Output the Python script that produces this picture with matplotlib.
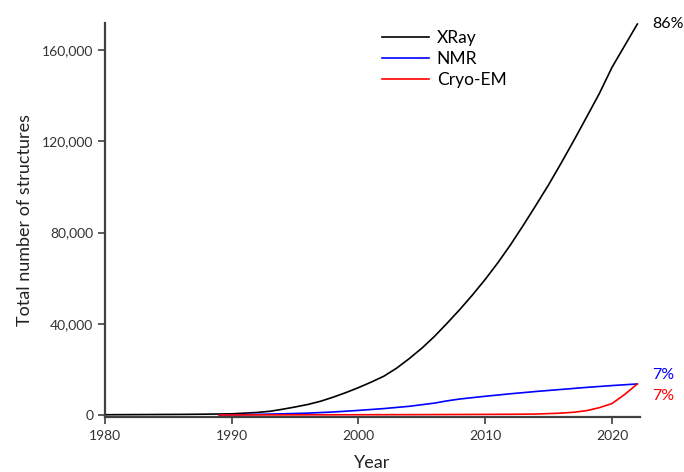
import matplotlib
matplotlib.use("Agg")
import matplotlib.pyplot as plt
from matplotlib.ticker import FuncFormatter

plt.rcParams['font.family'] = ['Lato', 'DejaVu Sans']

# Cumulative number of deposited structures by experimental method
years_xray = [1980, 1982, 1984, 1986, 1988, 1990, 1991, 1992, 1993, 1994, 1995,
              1996, 1997, 1998, 1999, 2000, 2001, 2002, 2003, 2004, 2005, 2006,
              2007, 2008, 2009, 2010, 2011, 2012, 2013, 2014, 2015, 2016, 2017,
              2018, 2019, 2020, 2021, 2022]
xray = [100, 150, 200, 250, 350, 500, 800, 1100, 1600, 2500, 3500,
        4600, 6000, 7800, 9800, 12000, 14400, 17000, 20500, 24700, 29300, 34500,
        40300, 46300, 52700, 59500, 66800, 74700, 83200, 92000, 101000, 110600, 120500,
        130700, 141000, 152500, 162000, 171500]

years_nmr = [1989, 1990, 1992, 1994, 1996, 1998, 2000, 2002, 2004, 2006, 2007,
             2008, 2010, 2012, 2014, 2016, 2018, 2020, 2022]
nmr = [0, 50, 250, 500, 800, 1300, 2000, 2800, 3800, 5200, 6200,
       7000, 8200, 9300, 10300, 11200, 12100, 12900, 13600]

years_em = [1989, 1995, 2000, 2005, 2010, 2012, 2014, 2016, 2017, 2018, 2019,
            2020, 2021, 2022]
cryo_em = [0, 50, 100, 150, 250, 300, 400, 800, 1200, 1900, 3200,
           5000, 9000, 13600]

series_names = ["XRay", "NMR", "Cryo-EM"]
series_colors = ["black", "#0000ff", "#ff0000"]
share_labels = ["86%", "7%", "7%"]

fig = plt.figure(figsize=(6.84, 4.72), dpi=100)
ax = fig.add_axes([0.1535, 0.1165, 0.782, 0.835])

ax.plot(years_xray, xray, color=series_colors[0], lw=1.2, label=series_names[0])
ax.plot(years_nmr, nmr, color=series_colors[1], lw=1.2, label=series_names[1])
ax.plot(years_em, cryo_em, color=series_colors[2], lw=1.2, label=series_names[2])

ax.set_xlim(1980, 2022.2)
ax.set_ylim(-900, 172000)
ax.set_xticks([1980, 1990, 2000, 2010, 2020])
ax.set_yticks([0, 40000, 80000, 120000, 160000])
ax.yaxis.set_major_formatter(FuncFormatter(lambda v, p: f"{int(v):,}"))

for s in ["top", "right"]:
    ax.spines[s].set_visible(False)
for s in ["left", "bottom"]:
    ax.spines[s].set_color("#404040")
    ax.spines[s].set_linewidth(1.6)

ax.tick_params(axis="both", direction="out", length=5, width=1.2,
               color="#404040", labelsize=10, labelcolor="#333333")
ax.tick_params(axis="x", pad=4)

ax.set_ylabel("Total number of structures", fontsize=13, color="#222222", labelpad=6)
ax.set_xlabel("Year", fontsize=13, color="#222222", labelpad=10)

ends = [xray[-1], nmr[-1], cryo_em[-1]]
offsets = [0, 3900, -5300]
for lab, val, off, col in zip(share_labels, ends, offsets, series_colors):
    ax.text(2023.2, val + off, lab, color=col, fontsize=11.5,
            va="center", ha="left", clip_on=False)

leg = ax.legend(loc="upper left", bbox_to_anchor=(0.505, 1.0), frameon=False,
                fontsize=12.5, handlelength=2.7, handletextpad=0.45,
                labelspacing=0.3, borderaxespad=0.0)

fig.savefig("out.png", dpi=100)
